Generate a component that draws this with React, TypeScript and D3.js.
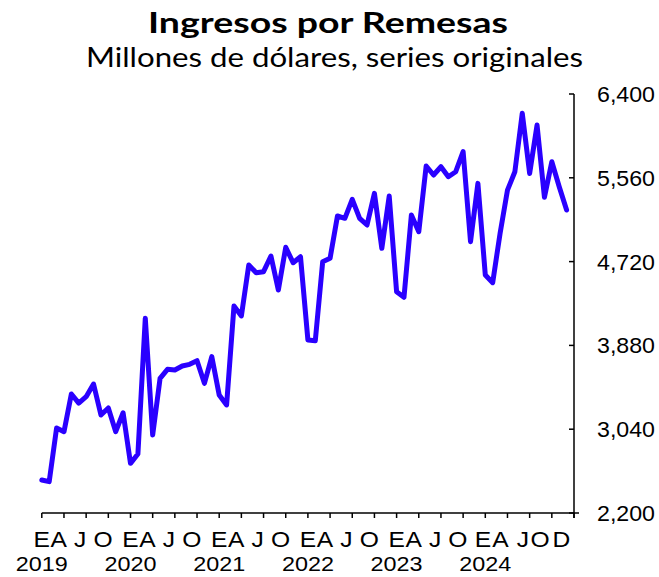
import React from "react";
import * as d3 from "d3";

const years = ["2019", "2020", "2021", "2022", "2023", "2024"];
const values2019 = [2531, 2514, 3052, 3015, 3393, 3302, 3366, 3493, 3182, 3253, 3015, 3205];
const values2020 = [2698, 2791, 4152, 2982, 3550, 3640, 3633, 3673, 3690, 3727, 3500, 3767];
const values2021 = [3383, 3283, 4275, 4175, 4686, 4609, 4619, 4776, 4435, 4863, 4709, 4769];
const values2022 = [3934, 3927, 4719, 4753, 5177, 5154, 5344, 5154, 5087, 5404, 4853, 5377];
const values2023 = [4418, 4362, 5187, 5020, 5678, 5588, 5671, 5571, 5621, 5822, 4920, 5504];
const values2024 = [4586, 4509, 5004, 5436, 5621, 6207, 5604, 6089, 5364, 5721, 5471, 5237];
const series = [...values2019, ...values2020, ...values2021, ...values2022, ...values2023, ...values2024];

const yTicks = [2200, 3040, 3880, 4720, 5560, 6400];
// month-letter labels with their month position (in months from Jan of each year)
const monthLetters = ["E", "A", "J", "O"];
const monthLetterOffsets = [0, 2.3, 5.2, 8.3];
const lastYearLetters = ["E", "A", "J", "O", "D"];
const lastYearOffsets = [-0.3, 2.05, 5.1, 7.4, 10.3];

const title = "Ingresos por Remesas";
const subtitle = "Millones de dólares, series originales";

export default function App() {
  const W = 659, H = 577;
  const x = d3.scaleLinear().domain([0, 72]).range([41.8, 574]);
  const y = d3.scaleLinear().domain([2200, 6400]).range([513, 94]);
  const line = d3
    .line<number>()
    .x((_, i) => x(i))
    .y((d) => y(d));
  const fmt = d3.format(",");
  const quarterTicks = d3.range(0, 73, 3);

  const letterLabels: { t: string; m: number }[] = [];
  years.forEach((_, yi) => {
    if (yi < years.length - 1) {
      monthLetters.forEach((t, k) => letterLabels.push({ t, m: yi * 12 + monthLetterOffsets[k] }));
    } else {
      lastYearLetters.forEach((t, k) => letterLabels.push({ t, m: yi * 12 + lastYearOffsets[k] }));
    }
  });

  const axisFont = "'Liberation Sans', Arial, sans-serif";
  const titleFont = "Lato, 'Open Sans', sans-serif";

  return (
    <div style={{ position: "absolute", left: 0, top: 0 }}>
      <svg width={W} height={H} style={{ display: "block", background: "#fff" }}>
        <text x={328} y={33} textAnchor="middle" fontFamily={titleFont} fontWeight="bold" fontSize={28}
          textLength={360} lengthAdjust="spacingAndGlyphs" fill="#000">{title}</text>
        <text x={334.5} y={67} textAnchor="middle" fontFamily={titleFont} fontSize={26}
          textLength={497} lengthAdjust="spacingAndGlyphs" fill="#000">{subtitle}</text>

        {/* x axis */}
        <line x1={x(0)} x2={579} y1={y(2200)} y2={y(2200)} stroke="#000" strokeWidth={1.5} />
        {quarterTicks.map((q) => (
          <line key={q} x1={x(q)} x2={x(q)} y1={y(2200)} y2={y(2200) + 5} stroke="#000" strokeWidth={1.5} />
        ))}
        {letterLabels.map((l, i) => (
          <text key={i} transform={`translate(${x(l.m)},${547}) scale(1.12,1)`} textAnchor="middle"
            fontFamily={axisFont} fontSize={22} fill="#000">{l.t}</text>
        ))}
        {years.map((yr, i) => (
          <text key={yr} x={x(i * 12) - 26} y={571} fontFamily={axisFont} fontSize={21}
            textLength={52} lengthAdjust="spacingAndGlyphs" fill="#000">{yr}</text>
        ))}

        {/* y axis */}
        <line x1={574} x2={574} y1={y(6400)} y2={y(2200) + 5} stroke="#000" strokeWidth={1.5} />
        {yTicks.map((t) => (
          <g key={t}>
            <line x1={569} x2={574} y1={y(t)} y2={y(t)} stroke="#000" strokeWidth={1.5} />
            <text x={597} y={y(t) + 8} fontFamily={axisFont} fontSize={22}
              textLength={58} lengthAdjust="spacingAndGlyphs" fill="#000">{fmt(t)}</text>
          </g>
        ))}

        <path d={line(series) || ""} fill="none" stroke="#2A00FF" strokeWidth={5} strokeLinejoin="round" strokeLinecap="round" />
      </svg>
    </div>
  );
}
